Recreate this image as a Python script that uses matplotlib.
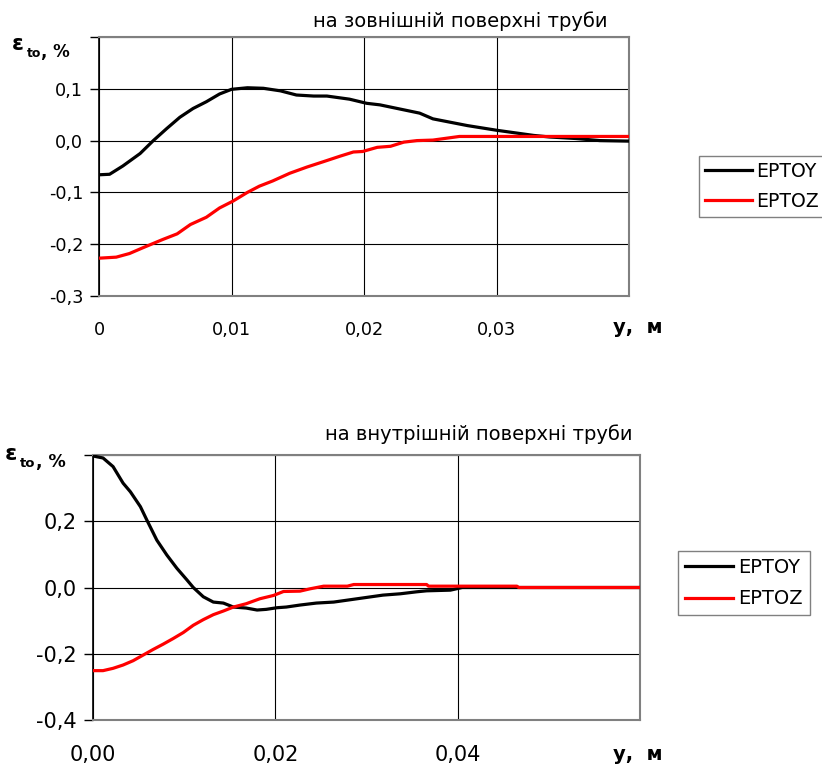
import numpy as np
import matplotlib.pyplot as plt

plt.rcParams['font.family'] = ['DejaVu Sans']

# outer surface of the pipe
y_out = [0.0, 0.0008, 0.0018, 0.0031, 0.0041, 0.0051, 0.0061, 0.0071, 0.0081,
         0.0091, 0.0100, 0.0112, 0.0124, 0.0137, 0.0149, 0.0162, 0.0172, 0.0189,
         0.0202, 0.0212, 0.0227, 0.0242, 0.0252, 0.0278, 0.0300, 0.0328, 0.0340,
         0.0360, 0.0378, 0.0400]
eptoy_out = [-0.066, -0.065, -0.049, -0.025, 0.000, 0.023, 0.045, 0.062, 0.075,
             0.090, 0.099, 0.102, 0.101, 0.096, 0.088, 0.086, 0.086, 0.080,
             0.072, 0.069, 0.061, 0.053, 0.042, 0.029, 0.020, 0.010, 0.007,
             0.004, 0.000, -0.001]

z_out = [0.0, 0.0013, 0.0023, 0.0033, 0.0048, 0.0059, 0.0069, 0.0081, 0.0091,
         0.0101, 0.0112, 0.0121, 0.0131, 0.0144, 0.0157, 0.0169, 0.0182, 0.0192,
         0.0199, 0.0210, 0.0220, 0.0230, 0.0240, 0.0252, 0.0272, 0.0400]
eptoz_out = [-0.227, -0.225, -0.218, -0.207, -0.191, -0.180, -0.162, -0.148, -0.130,
             -0.117, -0.100, -0.088, -0.078, -0.063, -0.051, -0.041, -0.030, -0.022,
             -0.021, -0.013, -0.011, -0.003, 0.000, 0.001, 0.008, 0.008]

# inner surface of the pipe
y_in = [0.0, 0.0011, 0.0022, 0.0033, 0.0041, 0.0052, 0.0059, 0.0070, 0.0081,
        0.0092, 0.0103, 0.0110, 0.0121, 0.0132, 0.0143, 0.0154, 0.0168, 0.0180,
        0.0190, 0.0202, 0.0212, 0.0227, 0.0245, 0.0264, 0.0282, 0.0300, 0.0318,
        0.0337, 0.0355, 0.0366, 0.0392, 0.0405, 0.0600]
eptoy_in = [0.397, 0.391, 0.365, 0.315, 0.289, 0.244, 0.204, 0.143, 0.098,
            0.058, 0.023, 0.000, -0.028, -0.044, -0.047, -0.059, -0.062, -0.068,
            -0.066, -0.061, -0.059, -0.053, -0.047, -0.044, -0.037, -0.030, -0.023,
            -0.019, -0.013, -0.010, -0.008, 0.000, 0.000]

z_in = [0.0, 0.0011, 0.0022, 0.0033, 0.0044, 0.0055, 0.0066, 0.0077, 0.0088,
        0.0099, 0.0110, 0.0121, 0.0132, 0.0143, 0.0154, 0.0168, 0.0183, 0.0198,
        0.0209, 0.0227, 0.0238, 0.0253, 0.0279, 0.0286, 0.0366, 0.0368, 0.0465,
        0.0467, 0.0600]
eptoz_in = [-0.251, -0.251, -0.244, -0.234, -0.221, -0.204, -0.187, -0.171, -0.154,
            -0.136, -0.114, -0.097, -0.082, -0.071, -0.059, -0.049, -0.034, -0.024,
            -0.012, -0.011, -0.004, 0.004, 0.004, 0.009, 0.009, 0.004, 0.004,
            0.000, 0.000]

W, H = 822, 769


def px(x, y):
    return x / W, 1 - y / H


def style_axes(ax, xticks, xlabels, yticks, ylabels, fs, xpad):
    ax.set_xticks(xticks)
    ax.set_xticklabels(xlabels, fontsize=fs)
    ax.set_yticks(yticks)
    ax.set_yticklabels(ylabels, fontsize=fs)
    ax.tick_params(axis='x', length=0, pad=xpad)
    ax.tick_params(axis='y', length=6.5, width=1, direction='out', pad=5)
    ax.grid(True, color='black', linewidth=0.8)
    ax.set_axisbelow(True)
    for s in ('top', 'right', 'bottom'):
        ax.spines[s].set_color('#808080')
        ax.spines[s].set_linewidth(1.5)
    ax.spines['left'].set_color('black')
    ax.spines['left'].set_linewidth(1.2)


def ylabel(x, y, fs):
    # ε with bold subscript "to", then ", %"
    t1 = fig.text(*px(x, y), 'ε', fontsize=fs + 3.5, fontweight='bold', va='baseline')
    a = plt.annotate('to', xy=(1, 0), xycoords=t1, xytext=(2, -2),
                     textcoords='offset points', fontsize=fs - 3,
                     fontweight='bold', va='baseline')
    plt.annotate(', %', xy=(1, 0), xycoords=a, xytext=(0, 2),
                 textcoords='offset points', fontsize=fs,
                 fontweight='bold', va='baseline')


fig = plt.figure(figsize=(W / 100, H / 100), dpi=100)

# top chart
ax1 = fig.add_axes([99 / W, 1 - 296 / H, 530 / W, 259 / H])
ax1.plot(y_out, eptoy_out, color='black', lw=2.3, label='EPTOY', zorder=3)
ax1.plot(z_out, eptoz_out, color='#ff0000', lw=2.3, label='EPTOZ', zorder=3)
ax1.set_xlim(0, 0.04)
ax1.set_ylim(-0.3, 0.2)
style_axes(ax1, [0, 0.01, 0.02, 0.03, 0.04], ['0', '0,01', '0,02', '0,03', ''],
           [-0.3, -0.2, -0.1, 0.0, 0.1, 0.2], ['-0,3', '-0,2', '-0,1', '0,0', '0,1', ''],
           12.7, 18)
fig.text(*px(638, 333), 'у,  м', fontsize=14, fontweight='bold', ha='center', va='baseline')
fig.text(*px(313, 27), 'на зовнішній поверхні труби', fontsize=14, va='baseline')
ax1.legend(loc='upper left', bbox_to_anchor=px(699, 156), bbox_transform=fig.transFigure,
           fontsize=13.6, frameon=True, fancybox=False, edgecolor='#606060',
           borderaxespad=0, borderpad=0.3, handlelength=2.5, handletextpad=0.25,
           labelspacing=0.6)
ylabel(12, 50, 12)

# bottom chart
ax2 = fig.add_axes([93 / W, 1 - 720 / H, 547 / W, 265 / H])
ax2.plot(y_in, eptoy_in, color='black', lw=2.3, label='EPTOY', zorder=3)
ax2.plot(z_in, eptoz_in, color='#ff0000', lw=2.3, label='EPTOZ', zorder=3)
ax2.set_xlim(0, 0.06)
ax2.set_ylim(-0.4, 0.4)
style_axes(ax2, [0, 0.02, 0.04, 0.06], ['0,00', '0,02', '0,04', ''],
           [-0.4, -0.2, 0.0, 0.2, 0.4], ['-0,4', '-0,2', '0,0', '0,2', ''],
           15, 18)
fig.text(*px(638, 760), 'у,  м', fontsize=14, fontweight='bold', ha='center', va='baseline')
fig.text(*px(325, 440), 'на внутрішній поверхні труби', fontsize=14, va='baseline')
ax2.legend(loc='upper left', bbox_to_anchor=px(678, 551), bbox_transform=fig.transFigure,
           fontsize=14, frameon=True, fancybox=False, edgecolor='#606060',
           borderaxespad=0, borderpad=0.35, handlelength=2.5, handletextpad=0.25,
           labelspacing=0.65)
ylabel(5, 460, 12.5)

fig.savefig('out.png', dpi=100)
